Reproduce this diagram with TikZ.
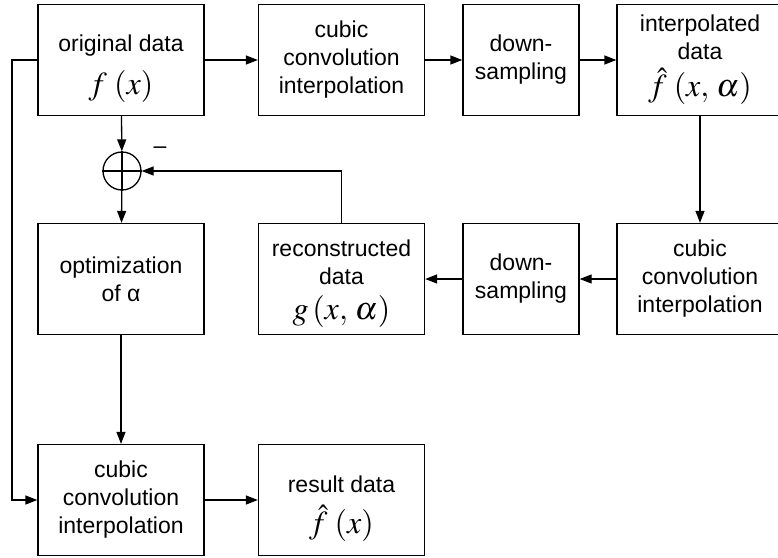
\documentclass[tikz,border=0pt]{standalone}
\usepackage{mathptmx}
\usepackage[no-math]{fontspec}
\setsansfont{Liberation Sans}
\usepackage{tikz}
\usetikzlibrary{arrows.meta}

\tikzset{
  blk/.style={draw, line width=1.3pt, minimum height=111pt, inner sep=0pt,
    align=center, font=\sffamily\fontsize{23}{28}\selectfont},
  wide/.style={blk, minimum width=166pt},
  narrow/.style={blk, minimum width=116pt},
  flow/.style={line width=1.3pt, -{Triangle[length=12pt,width=9pt]}}
}
\newcommand{\fmath}[1]{{\fontsize{32}{32}\selectfont$#1$}}
\newcommand{\topgap}[1]{\rule{0pt}{#1}}

\begin{document}
\begin{tikzpicture}[x=1pt, y=-1pt]
    \useasboundingbox (0,0) rectangle (778,557);

    % top row
    \node[wide]   (orig)   at (121,60)   {\topgap{34pt}original data\\[14pt]\fmath{f\;(x)}};
    \node[wide]   (cubA)   at (341.5,60) {cubic\\convolution\\interpolation};
    \node[narrow] (downA)  at (521,60)   {down-\\sampling};
    \node[wide]   (interp) at (700,60)   {interpolated\\data\\[7pt]\fmath{\hat{f}\;(x,\,\alpha)}};

    % middle row
    \node[wide]   (opt)    at (121,279)   {optimization\\of α};
    \node[wide]   (recon)  at (341.5,279) {\topgap{26pt}reconstructed\\data\\[7pt]\fmath{g\,(x,\,\alpha)}};
    \node[narrow] (downB)  at (521,279)   {down-\\sampling};
    \node[wide]   (cubB)   at (700,279)   {cubic\\convolution\\interpolation};

    % bottom row
    \node[wide]   (cubC)   at (121,500)   {cubic\\convolution\\interpolation};
    \node[wide]   (res)    at (341.5,500) {\topgap{34pt}result data\\[12pt]\fmath{\hat{f}\;(x)}};

    % summing point
    \node[draw, circle, line width=1.3pt, minimum size=38pt, inner sep=0pt] (sum) at (122,171) {};
    \draw[line width=1.3pt] (sum.north) -- (sum.south) (sum.west) -- (sum.east);
    \node[font=\sffamily\fontsize{23}{27}\selectfont] (minus) at (160,150) {\textendash};
    \coordinate (lft) at (12,60);

    \draw[flow] (orig) -- (cubA);
    \draw[flow] (cubA) -- (downA);
    \draw[flow] (downA) -- (interp);
    \draw[flow] (interp) -- (cubB);
    \draw[flow] (cubB) -- (downB);
    \draw[flow] (downB) -- (recon);
    \draw[flow] (recon.north) |- (sum.east);
    \draw[flow] (orig) -- (sum);
    \draw[flow] (sum) -- (opt);
    \draw[flow] (opt) -- (cubC);
    \draw[flow] (orig.west) -- (lft) |- (cubC.west);
    \draw[flow] (cubC) -- (res);
\end{tikzpicture}
\end{document}
